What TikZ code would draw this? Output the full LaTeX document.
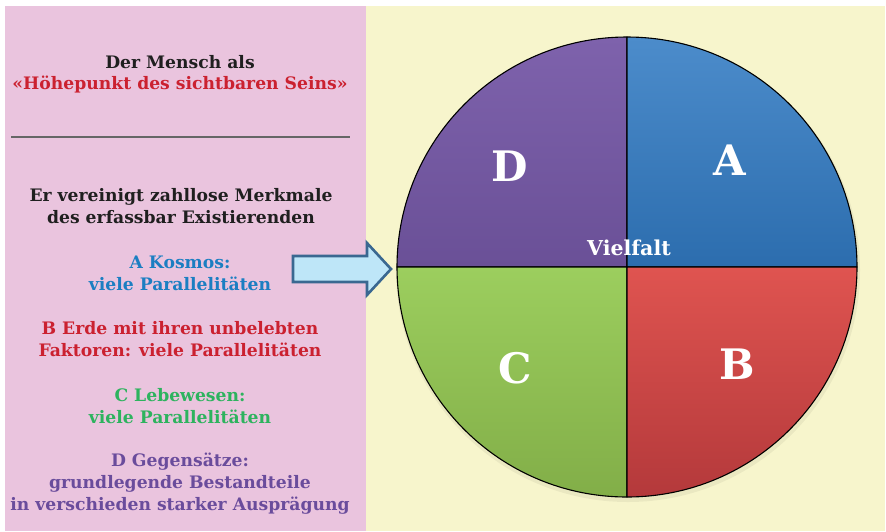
\documentclass[tikz,border=0pt]{standalone}
\usepackage{fontspec}
\setmainfont{DejaVu Serif}
\definecolor{pinkbg}{HTML}{EAC4DE}
\definecolor{yellowbg}{HTML}{F7F5CC}
\definecolor{txtblue}{HTML}{1B7EC2}
\definecolor{txtred}{HTML}{CB2130}
\definecolor{txtgreen}{HTML}{2DB35E}
\definecolor{txtpurple}{HTML}{6A4C9C}
\definecolor{arrowfill}{HTML}{BEE6F8}
\definecolor{arrowline}{HTML}{3A6891}
\definecolor{dtop}{HTML}{7E62AC}
\definecolor{dbot}{HTML}{6A5097}
\definecolor{atop}{HTML}{4C8CCB}
\definecolor{abot}{HTML}{2C6DAE}
\definecolor{ctop}{HTML}{9CCE5E}
\definecolor{cbot}{HTML}{82AE48}
\definecolor{btop}{HTML}{DF5450}
\definecolor{bbot}{HTML}{B4393B}
\tikzset{
  body/.style={font=\bfseries\fontsize{17.2}{22}\selectfont, align=center},
  quad/.style={draw=black, line width=1.1pt, line join=round},
  bigletter/.style={font=\bfseries\fontsize{42}{42}\selectfont, text=white},
}
\begin{document}
\begin{tikzpicture}[x=1pt,y=-1pt]
\useasboundingbox (0,0) rectangle (886,531);
\fill[white] (0,0) rectangle (886,531);
% two background panels
\fill[pinkbg] (5,6) rectangle (366,531);
\fill[yellowbg] (366,6) rectangle (885,531);

% left column text
\node[body, text=black!88] (t1) at (180,62) {Der Mensch als};
\node[body, text=txtred] (t2) at (180,85) {«Höhepunkt des sichtbaren Seins»};
\draw[black!60, line width=1.3pt] (11,137) coordinate (r1) -- (350,137) coordinate (r2);
\node[body, text=black!88] (t3) at (181,206) {Er vereinigt zahllose Merkmale\\des erfassbar Existierenden};
\node[body, text=txtblue] (ta) at (180,273) {A Kosmos:\\viele Parallelitäten};
\node[body, text=txtred] (tb) at (180,339) {B Erde mit ihren unbelebten\\Faktoren: viele Parallelitäten};
\node[body, text=txtgreen] (tc) at (180,406) {C Lebewesen:\\viele Parallelitäten};
\node[body, text=txtpurple] (td) at (180,484) {D Gegensätze:\\grundlegende Bestandteile\\in verschieden starker Ausprägung};

% soft shadow of the disc
\fill[black, opacity=0.05] (628,270) circle[radius=232];
% the four quadrants
\coordinate (c) at (627,267);
\shade[quad, top color=dtop, bottom color=dbot]
  (c) -- (627,37) arc[start angle=-90, end angle=-180, radius=230] -- cycle;
\shade[quad, top color=atop, bottom color=abot]
  (c) -- (857,267) arc[start angle=0, end angle=-90, radius=230] -- cycle;
\shade[quad, top color=ctop, bottom color=cbot]
  (c) -- (397,267) arc[start angle=180, end angle=90, radius=230] -- cycle;
\shade[quad, top color=btop, bottom color=bbot]
  (c) -- (627,497) arc[start angle=90, end angle=0, radius=230] -- cycle;

% quadrant letters
\node[bigletter] (lD) at (510,166) {D};
\node[bigletter] (lA) at (730,160) {A};
\node[bigletter] (lC) at (515,368) {C};
\node[bigletter] (lB) at (737,364) {B};
\node[font=\bfseries\fontsize{20.5}{20.5}\selectfont, text=white] (v) at (629,248) {Vielfalt};

% block arrow pointing at the disc
\draw[arrowline, fill=arrowfill, line width=2.6pt, line join=miter]
  (293,256) -- (367,256) -- (367,243) -- (391,269) -- (367,295)
  -- (367,282) -- (293,282) -- cycle;
\end{tikzpicture}
\end{document}
